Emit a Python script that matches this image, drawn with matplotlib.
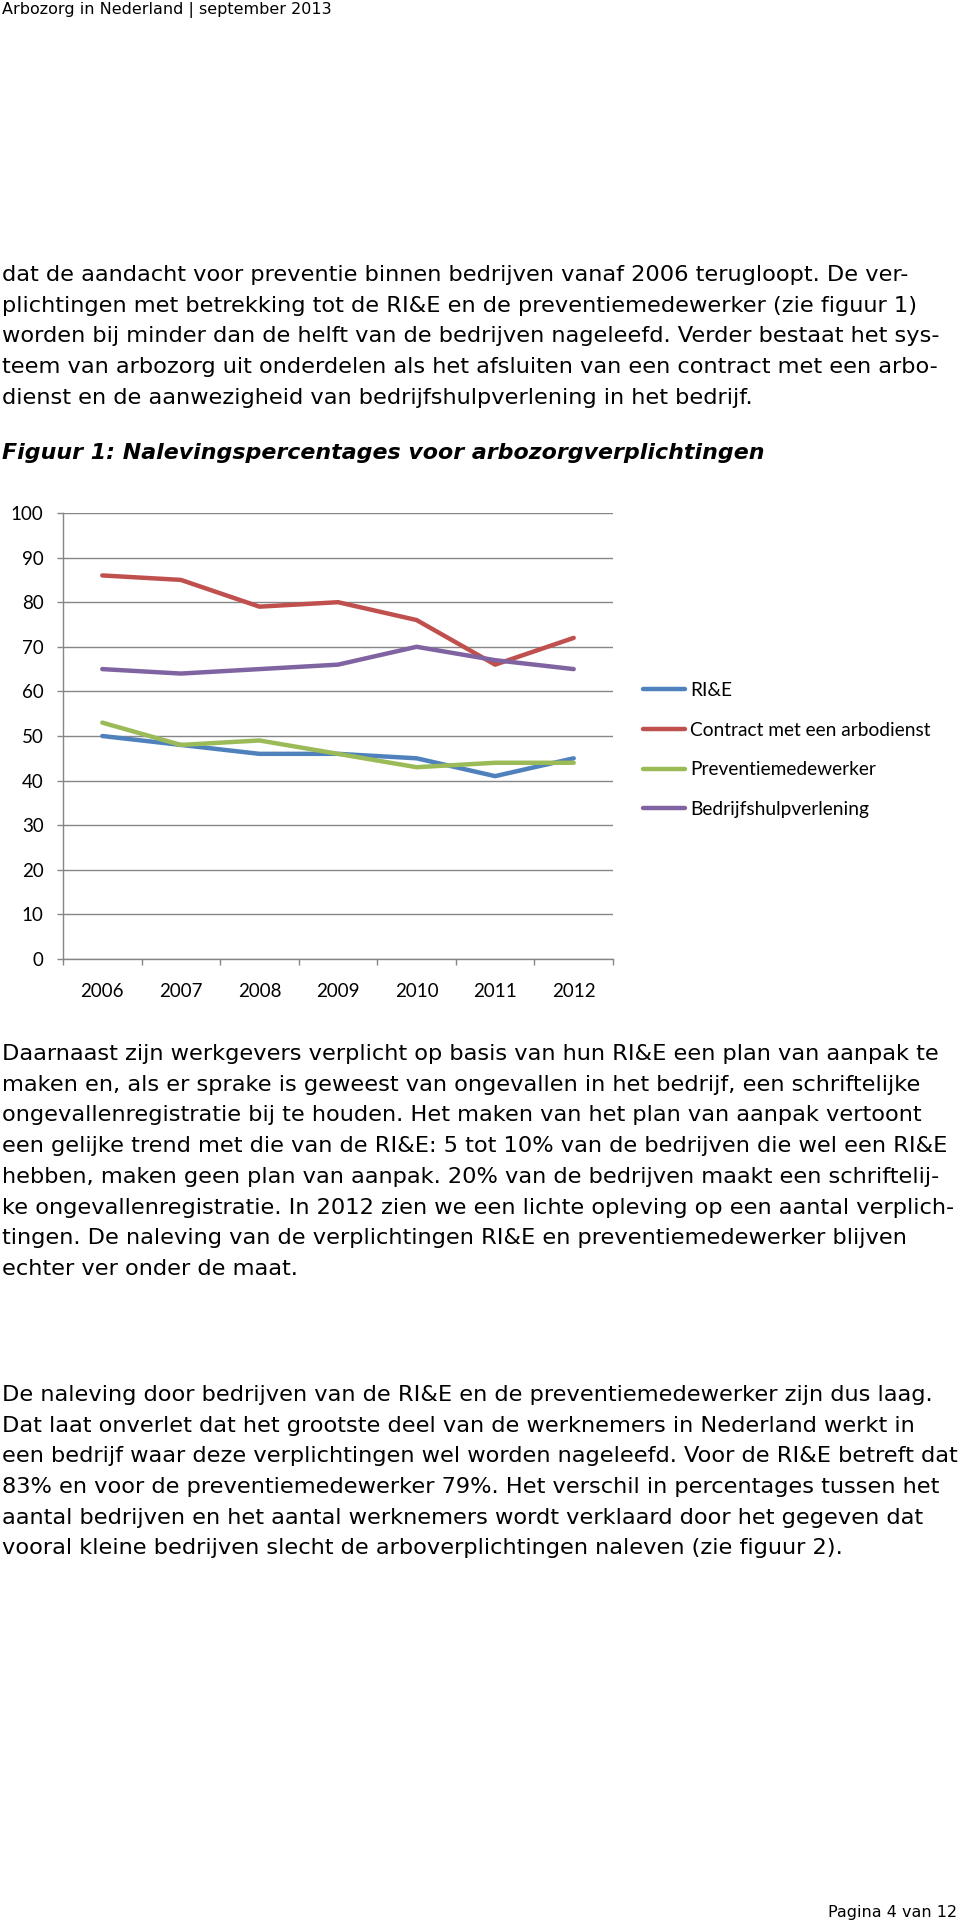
import matplotlib.pyplot as plt
import numpy as np

# data
years = ['2006', '2007', '2008', '2009', '2010', '2011', '2012']
rie = [50, 48, 46, 46, 45, 41, 45]
contract = [86, 85, 79, 80, 76, 66, 72]
preventie = [53, 48, 49, 46, 43, 44, 44]
bhv = [65, 64, 65, 66, 70, 67, 65]
series_names = ['RI&E', 'Contract met een arbodienst', 'Preventiemedewerker', 'Bedrijfshulpverlening']

header = 'Arbozorg in Nederland | september 2013'
footer = 'Pagina 4 van 12'
title = 'Figuur 1: Nalevingspercentages voor arbozorgverplichtingen'

para1 = [
    'dat de aandacht voor preventie binnen bedrijven vanaf 2006 terugloopt. De ver-',
    'plichtingen met betrekking tot de RI&E en de preventiemedewerker (zie figuur 1)',
    'worden bij minder dan de helft van de bedrijven nageleefd. Verder bestaat het sys-',
    'teem van arbozorg uit onderdelen als het afsluiten van een contract met een arbo-',
    'dienst en de aanwezigheid van bedrijfshulpverlening in het bedrijf.',
]
para2 = [
    'Daarnaast zijn werkgevers verplicht op basis van hun RI&E een plan van aanpak te',
    'maken en, als er sprake is geweest van ongevallen in het bedrijf, een schriftelijke',
    'ongevallenregistratie bij te houden. Het maken van het plan van aanpak vertoont',
    'een gelijke trend met die van de RI&E: 5 tot 10% van de bedrijven die wel een RI&E',
    'hebben, maken geen plan van aanpak. 20% van de bedrijven maakt een schriftelij-',
    'ke ongevallenregistratie. In 2012 zien we een lichte opleving op een aantal verplich-',
    'tingen. De naleving van de verplichtingen RI&E en preventiemedewerker blijven',
    'echter ver onder de maat.',
]
para3 = [
    'De naleving door bedrijven van de RI&E en de preventiemedewerker zijn dus laag.',
    'Dat laat onverlet dat het grootste deel van de werknemers in Nederland werkt in',
    'een bedrijf waar deze verplichtingen wel worden nageleefd. Voor de RI&E betreft dat',
    '83% en voor de preventiemedewerker 79%. Het verschil in percentages tussen het',
    'aantal bedrijven en het aantal werknemers wordt verklaard door het gegeven dat',
    'vooral kleine bedrijven slecht de arboverplichtingen naleven (zie figuur 2).',
]

W, H = 960, 1930
fig = plt.figure(figsize=(W / 100, H / 100), dpi=100)


def fy(px):
    # pixel row from the top -> figure fraction
    return 1 - px / H


body = dict(fontsize=16.2, family='DejaVu Sans', color='black', va='center', ha='left')
LINE = 30.7

fig.text(2 / W, fy(10), header, fontsize=11.5, family='DejaVu Sans', va='center')
for i, s in enumerate(para1):
    fig.text(2 / W, fy(275 + i * LINE), s, **body)
fig.text(2 / W, fy(453), title, fontsize=15.9, family='DejaVu Sans',
         weight='bold', style='italic', va='center')
for i, s in enumerate(para2):
    fig.text(2 / W, fy(1054 + i * LINE), s, **body)
for i, s in enumerate(para3):
    fig.text(2 / W, fy(1395 + i * LINE), s, **body)
fig.text(957 / W, fy(1912), footer, fontsize=11.5, family='DejaVu Sans', va='center', ha='right')

# chart
grey = '#868686'
ax = fig.add_axes([63 / W, fy(959), 550 / W, 446 / H])
x = np.arange(len(years))
colors = ['#4F81BD', '#C0504D', '#9BBB59', '#8064A2']
for vals, c, name in zip([rie, contract, preventie, bhv], colors, series_names):
    ax.plot(x, vals, color=c, lw=3.2, solid_capstyle='round', solid_joinstyle='round', label=name)

ax.set_xlim(-0.5, 6.5)
ax.set_ylim(0, 100)
ax.set_yticks(np.arange(0, 101, 10))
ax.yaxis.grid(True, color=grey, lw=1.0)
ax.set_axisbelow(True)
ax.set_xticks(x, labels=years)
ax.set_xticks(np.arange(-0.5, 7.0, 1.0), minor=True)
ax.tick_params(axis='x', which='major', length=0, pad=17, labelsize=13.5)
ax.tick_params(axis='x', which='minor', length=4, color=grey, width=1.0)
ax.tick_params(axis='y', length=4, color=grey, width=1.0, pad=10, labelsize=13.5)
for lab in ax.get_xticklabels() + ax.get_yticklabels():
    lab.set_family('Lato')
for side in ['top', 'right']:
    ax.spines[side].set_visible(False)
for side in ['left', 'bottom']:
    ax.spines[side].set_color(grey)
    ax.spines[side].set_linewidth(1.0)

leg = ax.legend(loc='center left', bbox_to_anchor=(643 / W, fy(750)), bbox_transform=fig.transFigure,
                frameon=False, prop={'family': 'Lato', 'size': 13.8}, handlelength=2.2,
                handletextpad=0.26, labelspacing=1.18, borderpad=0, borderaxespad=0)

fig.savefig('out.png', dpi=100)
plt.close(fig)
